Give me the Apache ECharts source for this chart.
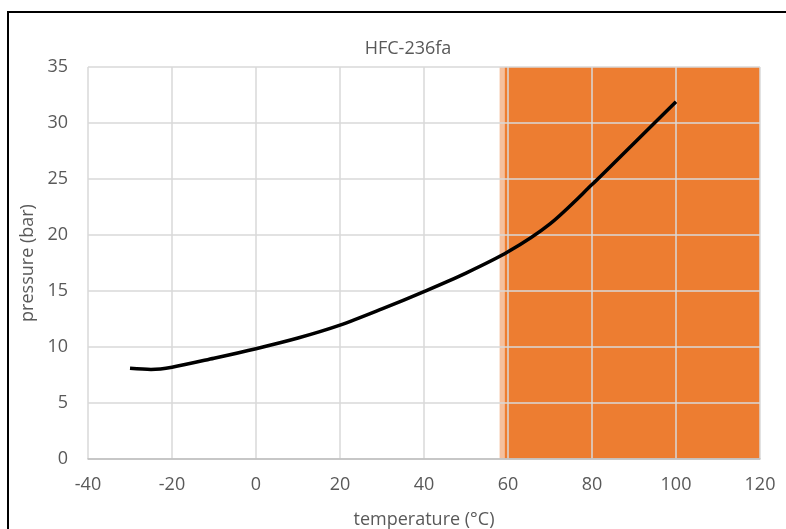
<!DOCTYPE html>
<html>
<head>
<meta charset="utf-8">
<script src="https://cdn.jsdelivr.net/npm/echarts@6/dist/echarts.min.js"></script>
<style>
html,body{margin:0;padding:0;background:#fff;}
#c{width:786px;height:529px;}
</style>
</head>
<body>
<div id="c"></div>
<script>
const temperatures = [-30, -25, -20, -10, 0, 10, 20, 30, 40, 50, 60, 70, 80, 90, 100];
const pressures = [8.1, 8.0, 8.2, 9.0, 9.85, 10.8, 11.95, 13.4, 14.95, 16.6, 18.5, 21.0, 24.5, 28.2, 31.9];
const limitStripStart = 58;
const limitStart = 59.2;
const limitEnd = 120;
const xTicks = {min: -40, max: 120, interval: 20};
const yTicks = {min: 0, max: 35, interval: 5};
const titleText = 'HFC-236fa';
const xName = 'temperature (°C)';
const yName = 'pressure (bar)';

const font = '"Open Sans", "Liberation Sans", sans-serif';
const chart = echarts.init(document.getElementById('c'), null, {renderer: 'canvas'});
chart.setOption({
  animation: false,
  backgroundColor: '#ffffff',
  graphic: [{
    type: 'rect', z: 100,
    shape: {x: 8, y: 12, width: 800, height: 560},
    style: {fill: 'none', stroke: '#000000', lineWidth: 2}
  }],
  title: {
    text: titleText, left: 403, top: 35, textAlign: 'center',
    textStyle: {fontFamily: font, fontSize: 18, fontWeight: 'normal', color: '#595959'}
  },
  grid: {left: 88, right: 26, top: 67, bottom: 70, containLabel: false, outerBoundsMode: 'none'},
  xAxis: {
    type: 'value', min: xTicks.min, max: xTicks.max, interval: xTicks.interval, z: 10,
    name: xName, nameLocation: 'middle', nameGap: 52,
    nameTextStyle: {fontFamily: font, fontSize: 18, color: '#595959'},
    axisLine: {show: true, onZero: false, lineStyle: {color: '#BFBFBF', width: 1.5}},
    axisTick: {show: false},
    axisLabel: {fontFamily: font, fontSize: 18, color: '#595959', margin: 17},
    splitLine: {show: true, lineStyle: {color: '#D9D9D9', width: 1.5}}
  },
  yAxis: {
    type: 'value', min: yTicks.min, max: yTicks.max, interval: yTicks.interval, z: 10,
    name: yName, nameLocation: 'middle', nameGap: 48, nameRotate: 90,
    nameTextStyle: {fontFamily: font, fontSize: 18, color: '#595959'},
    axisLine: {show: false},
    axisTick: {show: false},
    axisLabel: {fontFamily: font, fontSize: 18, color: '#595959', margin: 20},
    splitLine: {show: true, lineStyle: {color: '#D9D9D9', width: 1.5}}
  },
  series: [
    {
      type: 'line', z: 1, data: [], silent: true,
      markArea: {
        silent: true,
        data: [
          [{xAxis: limitStripStart, itemStyle: {color: '#F5C09E'}}, {xAxis: limitStart}],
          [{xAxis: limitStart, itemStyle: {color: '#ED7D31'}}, {xAxis: limitEnd}]
        ]
      }
    },
    {
      type: 'line', z: 20,
      data: temperatures.map((t, i) => [t, pressures[i]]),
      smooth: 0.3, showSymbol: false, symbol: 'none',
      lineStyle: {color: '#000000', width: 3.5}
    }
  ]
});
</script>
</body>
</html>
